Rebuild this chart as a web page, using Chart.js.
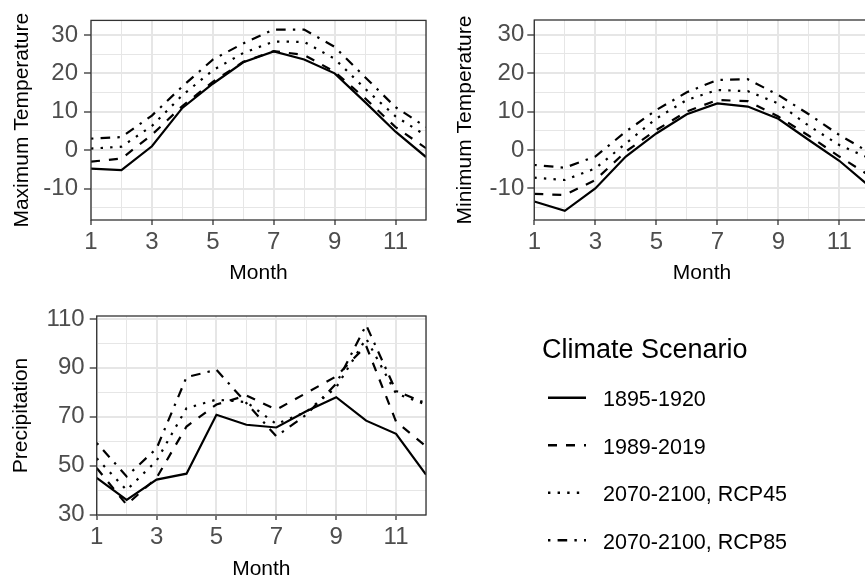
<!DOCTYPE html>
<html>
<head>
<meta charset="utf-8">
<script src="https://cdn.jsdelivr.net/npm/chart.js@4.4.1/dist/chart.umd.min.js"></script>
<style>
  html, body { margin: 0; padding: 0; width: 865px; height: 579px; overflow: hidden; background: #fff; }
  .panel { position: absolute; }
  #legend { position: absolute; left: 0; top: 0; }
</style>
</head>
<body>
<div class="panel" style="left:0;top:0"><canvas id="tmax" width="432" height="290"></canvas></div>
<div class="panel" style="left:430px;top:0"><canvas id="tmin" width="445" height="290"></canvas></div>
<div class="panel" style="left:0;top:290px"><canvas id="prcp" width="432" height="300"></canvas></div>
<svg id="legend" width="865" height="579"></svg>

<script>
const months = [1, 2, 3, 4, 5, 6, 7, 8, 9, 10, 11, 12];
const monthBreaks = [1, 3, 5, 7, 9, 11];
const scenarios = ['1895-1920', '1989-2019', '2070-2100, RCP45', '2070-2100, RCP85'];

// maximum temperature, one array per scenario
const tmax1895 = [-4.8, -5.2, 1.0, 11.0, 17.3, 22.9, 25.7, 23.6, 20.0, 12.5, 4.8, -1.8];
const tmax1989 = [-3.0, -2.2, 4.0, 11.5, 17.8, 23.0, 25.8, 24.8, 20.4, 13.5, 6.0, 0.5];
const tmaxRcp45 = [0.4, 0.9, 6.3, 14.3, 20.8, 25.3, 28.3, 28.2, 23.8, 16.0, 8.8, 3.8];
const tmaxRcp85 = [3.0, 3.4, 9.0, 16.6, 23.6, 27.8, 31.4, 31.4, 26.9, 19.0, 11.2, 6.0];

// minimum temperature
const tmin1895 = [-13.4, -15.8, -10.0, -1.7, 4.3, 9.3, 12.1, 11.3, 8.1, 2.6, -2.8, -9.5];
const tmin1989 = [-11.4, -11.7, -7.8, -0.4, 5.2, 10.0, 13.0, 12.7, 8.7, 3.7, -1.7, -6.7];
const tminRcp45 = [-7.2, -7.8, -4.8, 1.7, 8.2, 13.0, 15.6, 15.3, 12.1, 6.3, 1.3, -2.2];
const tminRcp85 = [-3.9, -4.6, -1.7, 4.8, 10.4, 15.0, 18.2, 18.4, 14.3, 9.3, 3.9, -0.7];

// precipitation
const prcp1895 = [45, 36, 44.3, 46.7, 70.8, 66.7, 65.6, 72.2, 78, 68.4, 63, 46.3];
const prcp1989 = [49, 34, 45, 66, 75, 78.7, 72.9, 79.7, 86.5, 99, 68, 57.9];
const prcpRcp45 = [53, 40, 52, 73.5, 77, 76, 67, 72, 82, 102, 79.5, 75];
const prcpRcp85 = [59.3, 45.6, 57, 86.2, 89.2, 75.6, 62, 70.8, 83.5, 107.5, 80.5, 75.5];

const tempBreaks = [-10, 0, 10, 20, 30];
const prcpBreaks = [30, 50, 70, 90, 110];

const FONT = '"Liberation Sans", Arial, sans-serif';
const lineDashes = [[], [9, 9], [2.4, 7.2], [2.4, 7.2, 9.6, 7.2]];

// majors plus the half-way minor breaks, kept inside the axis range
function withMinor(breaks, min, max) {
  const step = (breaks[1] - breaks[0]) / 2;
  const out = [];
  for (let v = breaks[0] - step; v <= breaks[breaks.length - 1] + step + 1e-9; v += step) {
    if (v >= min - 1e-9 && v <= max + 1e-9) out.push(v);
  }
  return out;
}

const panelBorder = {
  id: 'panelBorder',
  afterDraw(chart) {
    const { ctx, chartArea: a } = chart;
    ctx.save();
    ctx.strokeStyle = '#333333';
    ctx.lineWidth = 1.3;
    ctx.strokeRect(a.left, a.top, a.right - a.left, a.bottom - a.top);
    ctx.restore();
  }
};

function axis(o) {
  return {
    type: 'linear',
    min: o.min,
    max: o.max,
    afterBuildTicks: s => { s.ticks = withMinor(o.breaks, o.min, o.max).map(v => ({ value: v })); },
    afterFit: s => {
      if (o.width) s.width = o.width;
      if (o.height) s.height = o.height;
    },
    border: { display: false },
    grid: {
      color: '#E6E6E6',
      lineWidth: c => o.breaks.includes(c.tick.value) ? 2 : 1,
      drawTicks: true,
      tickLength: o.tickLength,
      tickWidth: 1.3,
      tickColor: c => o.breaks.includes(c.tick.value) ? '#333333' : 'rgba(0,0,0,0)'
    },
    ticks: {
      autoSkip: false,
      maxRotation: 0,
      minRotation: 0,
      padding: o.pad,
      color: '#4D4D4D',
      font: { family: FONT, size: 24 },
      callback: v => o.breaks.includes(v) ? String(v) : ''
    },
    title: {
      display: true,
      text: o.title,
      color: '#000',
      font: { family: FONT, size: 21 },
      padding: o.titlePad
    }
  };
}

function lineSets(series) {
  return series.map((vals, i) => ({
    label: scenarios[i],
    data: months.map((m, j) => ({ x: m, y: vals[j] })),
    borderColor: '#000',
    borderWidth: 2.2,
    borderDash: lineDashes[i],
    borderCapStyle: 'butt',
    pointRadius: 0,
    tension: 0,
    fill: false
  }));
}

function makePanel(id, series, p) {
  return new Chart(document.getElementById(id), {
    type: 'line',
    data: { datasets: lineSets(series) },
    options: {
      responsive: false,
      animation: false,
      layout: { padding: p.padding },
      plugins: { legend: { display: false }, tooltip: { enabled: false } },
      scales: {
        x: axis({ min: 1, max: 12, breaks: monthBreaks, title: 'Month', height: p.xHeight,
                  tickLength: 5, pad: 3, titlePad: { top: 0, bottom: p.xTitlePad } }),
        y: axis({ min: p.yMin, max: p.yMax, breaks: p.yBreaks, title: p.yTitle, width: p.yWidth,
                  tickLength: 7, pad: p.yPad, titlePad: { top: p.yTitlePad, bottom: 0 } })
      }
    },
    plugins: [panelBorder]
  });
}

makePanel('tmax', [tmax1895, tmax1989, tmaxRcp45, tmaxRcp85], {
  padding: { left: 0, top: 20, right: 6, bottom: 0 },
  xHeight: 70, xTitlePad: 3.9, yWidth: 91, yPad: 6, yTitlePad: 9.4,
  yMin: -18.2, yMax: 33.8, yBreaks: tempBreaks, yTitle: 'Maximum Temperature'
});

makePanel('tmin', [tmin1895, tmin1989, tminRcp45, tminRcp85], {
  padding: { left: 0, top: 20, right: 5.2, bottom: 0 },
  xHeight: 70, xTitlePad: 4.4, yWidth: 104.3, yPad: 3, yTitlePad: 22.9,
  yMin: -18.2, yMax: 33.8, yBreaks: tempBreaks, yTitle: 'Minimum Temperature'
});

makePanel('prcp', [prcp1895, prcp1989, prcpRcp45, prcpRcp85], {
  padding: { left: 0, top: 26, right: 6, bottom: 0 },
  xHeight: 75, xTitlePad: 8.1, yWidth: 96.7, yPad: 5, yTitlePad: 8.9,
  yMin: 29.8, yMax: 111.2, yBreaks: prcpBreaks, yTitle: 'Precipitation'
});

// legend
const svg = document.getElementById('legend');
const NS = 'http://www.w3.org/2000/svg';
function el(name, attrs, text) {
  const e = document.createElementNS(NS, name);
  for (const k in attrs) e.setAttribute(k, attrs[k]);
  if (text) e.textContent = text;
  svg.appendChild(e);
  return e;
}
el('text', { x: 542, y: 358, 'font-family': FONT, 'font-size': 27, fill: '#000' }, 'Climate Scenario');
scenarios.forEach((name, i) => {
  const y = 397.7 + i * 47.5;
  el('line', { x1: 548, x2: 586, y1: y, y2: y, stroke: '#000', 'stroke-width': 2.4,
               'stroke-dasharray': lineDashes[i].length ? lineDashes[i].join(' ') : 'none' });
  el('text', { x: 603, y: y + 8.6, 'font-family': FONT, 'font-size': 21.5, fill: '#000' }, name);
});
</script>
</body>
</html>
